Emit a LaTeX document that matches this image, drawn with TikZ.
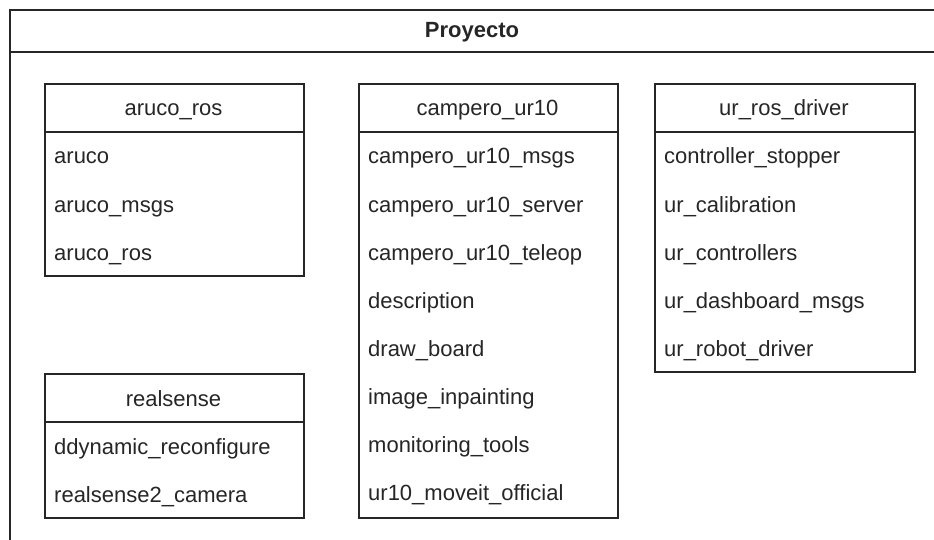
\documentclass[tikz,border=0pt]{standalone}
\usepackage{fontspec}
\setmainfont{Liberation Sans}
\begin{document}
\begin{tikzpicture}[x=1pt,y=-1pt,
  frame/.style={draw=black!85,line width=1.8pt},
  pkghead/.style={frame,fill=white,minimum height=48pt,inner sep=0pt},
  pkgbody/.style={frame,fill=white,inner sep=0pt},
  label/.style={anchor=base,inner sep=0pt,text=black!85,
    font=\fontsize{22}{26}\selectfont},
  item/.style={anchor=base west,inner sep=0pt,text=black!85,
    font=\fontsize{22}{26}\selectfont}]
\useasboundingbox (0,0) rectangle (934,540);
\clip (0,0) rectangle (934,540);

% outer package frame
\node[frame,minimum width=930pt,minimum height=560pt,anchor=north west,inner sep=0pt] (proj) at (9,9) {};
\coordinate (sepL) at (9,52);
\coordinate (sepR) at (945,52);
\draw[frame] (sepL) -- (sepR);
\node[label,font=\fontsize{22}{26}\selectfont\bfseries] (title) at (472,38) {Proyecto};

% aruco_ros
\node[pkghead,minimum width=259pt,anchor=north west] (arh) at (44,83) {};
\node[label] (arl) at (173.5,116) {aruco\_ros};
\node[pkgbody,minimum width=259pt,minimum height=144pt,anchor=north west] (arb) at (44,131) {};
\node[item] (ar1) at (54,164) {aruco};
\node[item] (ar2) at (54,212) {aruco\_msgs};
\node[item] (ar3) at (54,260) {aruco\_ros};

% realsense
\node[pkghead,minimum width=259pt,anchor=north west] (rsh) at (44,373) {};
\node[label] (rsl) at (173.5,406) {realsense};
\node[pkgbody,minimum width=259pt,minimum height=96pt,anchor=north west] (rsb) at (44,421) {};
\node[item] (rs1) at (54,454) {ddynamic\_reconfigure};
\node[item] (rs2) at (54,502) {realsense2\_camera};

% campero_ur10
\node[pkghead,minimum width=259pt,anchor=north west] (cph) at (358,83) {};
\node[label] (cpl) at (487.5,116) {campero\_ur10};
\node[pkgbody,minimum width=259pt,minimum height=386pt,anchor=north west] (cpb) at (358,131) {};
\node[item] (cp1) at (368,164) {campero\_ur10\_msgs};
\node[item] (cp2) at (368,212) {campero\_ur10\_server};
\node[item] (cp3) at (368,260) {campero\_ur10\_teleop};
\node[item] (cp4) at (368,308) {description};
\node[item] (cp5) at (368,356) {draw\_board};
\node[item] (cp6) at (368,404) {image\_inpainting};
\node[item] (cp7) at (368,452) {monitoring\_tools};
\node[item] (cp8) at (368,500) {ur10\_moveit\_official};

% ur_ros_driver
\node[pkghead,minimum width=260pt,anchor=north west] (urh) at (654,83) {};
\node[label] (url) at (784,116) {ur\_ros\_driver};
\node[pkgbody,minimum width=260pt,minimum height=240pt,anchor=north west] (urb) at (654,131) {};
\node[item] (ur1) at (664,164) {controller\_stopper};
\node[item] (ur2) at (664,212) {ur\_calibration};
\node[item] (ur3) at (664,260) {ur\_controllers};
\node[item] (ur4) at (664,308) {ur\_dashboard\_msgs};
\node[item] (ur5) at (664,356) {ur\_robot\_driver};
\end{tikzpicture}
\end{document}
